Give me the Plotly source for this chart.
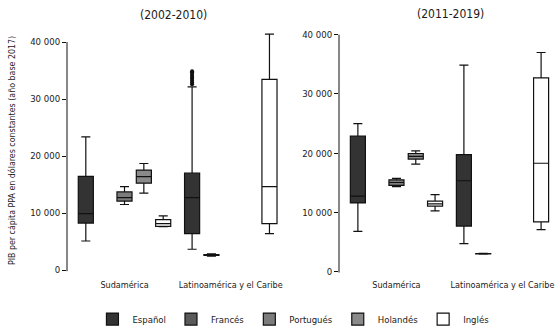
import plotly.graph_objects as go

# ---------------- data ----------------
CATEGORIES = ["Sudamérica", "Latinoamérica y el Caribe"]
LANGUAGES = ["Español", "Francés", "Portugués", "Holandés", "Inglés"]
COLORS = ["#333333", "#5a5a5a", "#7c7c7c", "#8a8a8a", "#ffffff"]
TICK_VALS = [0, 10000, 20000, 30000, 40000]
TICK_TEXT = ["0", "10 000", "20 000", "30 000", "40 000"]
PERIODS = ["(2002-2010)", "(2011-2019)"]
Y_TITLE = "PIB per cápita PPA en dólares constantes (año base 2017)"

# Period 1 (2002-2010): one row per box
P1_LANG = ["Español", "Español", "Francés", "Portugués", "Holandés", "Inglés", "Inglés"]
P1_CAT = ["Sudamérica", "Latinoamérica y el Caribe", "Latinoamérica y el Caribe",
          "Sudamérica", "Sudamérica", "Sudamérica", "Latinoamérica y el Caribe"]
P1_LOW = [5100, 3650, 2450, 11500, 13500, 7600, 6400]
P1_Q1 = [8250, 6400, 2550, 12100, 15250, 7650, 8150]
P1_MED = [9900, 12700, 2600, 12700, 16400, 8150, 14650]
P1_Q3 = [16450, 17000, 2700, 13700, 17550, 8850, 33450]
P1_HIGH = [23350, 32150, 2850, 14650, 18700, 9500, 41400]
P1_OUTLIERS_ES_LAT = [32600, 32900, 33200, 33500, 33800, 34100, 34400, 34700, 34900]

# Period 2 (2011-2019)
P2_LANG = ["Español", "Español", "Francés", "Portugués", "Holandés", "Inglés", "Inglés"]
P2_CAT = ["Sudamérica", "Latinoamérica y el Caribe", "Latinoamérica y el Caribe",
          "Sudamérica", "Sudamérica", "Sudamérica", "Latinoamérica y el Caribe"]
P2_LOW = [6800, 4750, 2950, 14350, 18150, 10250, 7100]
P2_Q1 = [11600, 7700, 2980, 14550, 19000, 11050, 8400]
P2_MED = [12750, 15350, 3020, 15050, 19450, 11450, 18300]
P2_Q3 = [22900, 19750, 3060, 15500, 19950, 11900, 32700]
P2_HIGH = [25000, 34850, 3100, 15750, 20400, 13000, 37000]

FONT = "DejaVu Sans Condensed, Liberation Sans Narrow, sans-serif"
W, H = 560, 334

fig = go.Figure()

periods = [
    ("x", "y", "L", P1_LANG, P1_CAT, P1_LOW, P1_Q1, P1_MED, P1_Q3, P1_HIGH),
    ("x2", "y2", "R", P2_LANG, P2_CAT, P2_LOW, P2_Q1, P2_MED, P2_Q3, P2_HIGH),
]
for pi, (xa, ya, ag, langs, cats, low, q1, med, q3, high) in enumerate(periods):
    for li, lang in enumerate(LANGUAGES):
        idx = [i for i, l in enumerate(langs) if l == lang]
        fig.add_trace(go.Box(
            name=lang,
            x=[cats[i] for i in idx],
            q1=[q1[i] for i in idx],
            median=[med[i] for i in idx],
            q3=[q3[i] for i in idx],
            lowerfence=[low[i] for i in idx],
            upperfence=[high[i] for i in idx],
            xaxis=xa, yaxis=ya,
            offsetgroup=lang, alignmentgroup=ag,
            fillcolor=COLORS[li],
            line=dict(color="#111111", width=1.2),
            whiskerwidth=0.6,
            boxpoints=False,
            legendgroup=lang,
            showlegend=(pi == 0),
            hoverinfo="skip",
        ))
    if pi == 0:
        fig.add_trace(go.Box(
            name="Español",
            x=[CATEGORIES[1]] * len(P1_OUTLIERS_ES_LAT),
            y=P1_OUTLIERS_ES_LAT,
            xaxis=xa, yaxis=ya,
            offsetgroup="Español", alignmentgroup=ag,
            boxpoints="all", jitter=0, pointpos=0,
            fillcolor="rgba(0,0,0,0)",
            line=dict(color="rgba(0,0,0,0)", width=0),
            marker=dict(color="#111111", size=4),
            whiskerwidth=0,
            legendgroup="Español",
            showlegend=False,
            hoverinfo="skip",
        ))

def px_x(p):
    return p / W

def px_y(p):
    return 1 - p / H

axis_common = dict(showgrid=False, zeroline=False, showline=False)
fig.update_layout(
    width=W, height=H,
    margin=dict(l=0, r=0, t=0, b=0),
    paper_bgcolor="white", plot_bgcolor="white",
    boxmode="group", boxgap=0.09, boxgroupgap=0.22,
    font=dict(family=FONT, size=9.5, color="#1a1a1a"),
    xaxis=dict(domain=[px_x(67), px_x(287)], anchor="y", type="category",
               categoryorder="array", categoryarray=CATEGORIES,
               range=[-0.541, 1.529], ticks="", tickfont=dict(size=9), **axis_common),
    yaxis=dict(domain=[px_y(280), px_y(30)], anchor="x",
               range=[-1450, 42150], tickvals=TICK_VALS, ticktext=TICK_TEXT,
               ticks="outside", ticklen=4, tickcolor="#111111",
               tickfont=dict(size=9.5), **axis_common),
    xaxis2=dict(domain=[px_x(339), px_x(557)], anchor="y2", type="category",
                categoryorder="array", categoryarray=CATEGORIES,
                range=[-0.542, 1.514], ticks="", tickfont=dict(size=9), **axis_common),
    yaxis2=dict(domain=[px_y(280), px_y(30)], anchor="x2",
                range=[-1124, 40826], tickvals=TICK_VALS, ticktext=TICK_TEXT,
                ticks="outside", ticklen=4, tickcolor="#111111",
                tickfont=dict(size=9.5), **axis_common),
    legend=dict(orientation="h", x=0.524, xanchor="center", y=px_y(321),
                yanchor="middle", font=dict(size=9.5), itemwidth=30,
                traceorder="normal"),
    showlegend=True,
)

# axis lines spanning 0 to 40 000
fig.add_shape(type="line", xref="paper", yref="y", x0=px_x(67), x1=px_x(67),
              y0=-200, y1=40000, line=dict(color="#111111", width=1))
fig.add_shape(type="line", xref="paper", yref="y2", x0=px_x(339), x1=px_x(339),
              y0=-150, y1=40000, line=dict(color="#111111", width=1))

fig.add_annotation(text=PERIODS[0], xref="paper", yref="paper", x=px_x(173), y=px_y(15),
                   showarrow=False, font=dict(size=12), xanchor="center", yanchor="middle")
fig.add_annotation(text=PERIODS[1], xref="paper", yref="paper", x=px_x(450), y=px_y(14),
                   showarrow=False, font=dict(size=12), xanchor="center", yanchor="middle")
fig.add_annotation(text=Y_TITLE, xref="paper", yref="paper", x=px_x(12), y=px_y(152),
                   showarrow=False, textangle=-90, font=dict(size=8.8),
                   xanchor="center", yanchor="middle")

fig.write_html("out.html", config={"displayModeBar": False},
               post_script="document.body.style.margin='0';")
